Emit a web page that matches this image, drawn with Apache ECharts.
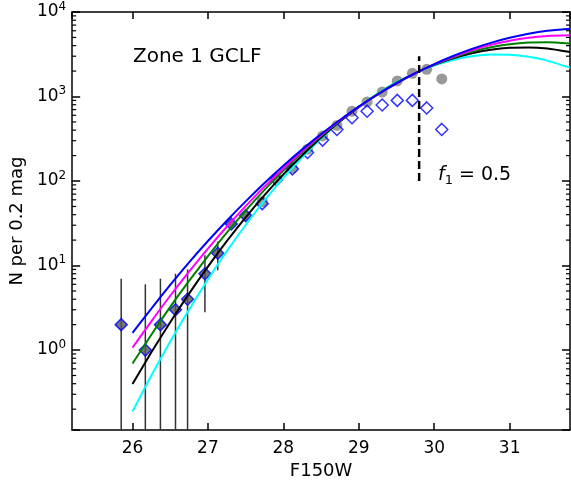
<!DOCTYPE html>
<html>
<head>
<meta charset="utf-8">
<script src="https://cdn.jsdelivr.net/npm/echarts@6/dist/echarts.min.js"></script>
<style>html,body{margin:0;padding:0;background:#fff}#c{width:571px;height:485px}</style>
</head>
<body>
<div id="c"></div>
<script>
// ---- data ----
const mags  = [25.85, 26.17, 26.37, 26.57, 26.73, 26.96, 27.13, 27.31, 27.50, 27.72, 27.91, 28.12, 28.32, 28.52, 28.71, 28.91, 29.11, 29.31, 29.51, 29.71, 29.90, 30.10];
const nObs  = [2, 1, 2, 3, 4, 8, 14, 31, 39, 54, 103, 139, 218, 305, 408, 560, 671, 795, 900, 900, 733, 408];
const nCorr = [2, 1, 2, 3, 4, 8, 14, 31, 39, 57, 108, 142, 238, 342, 455, 671, 862, 1130, 1531, 1884, 2100, 1615];
const errN  = [5, 5, 5, 5, 5, 5.2, 5.2];

const curveMags = [26.0, 26.25, 26.5, 26.75, 27.0, 27.25, 27.5, 27.75, 28.0, 28.25, 28.5, 28.75,
                   29.0, 29.25, 29.5, 29.75, 30.0, 30.25, 30.5, 30.75, 31.0, 31.25, 31.5, 31.8];
const curveBlue    = [1.60, 3.10, 5.89, 10.9, 19.5, 33.9, 57.4, 94.8, 152, 237, 359, 528,
                      759, 1057, 1432, 1888, 2421, 3020, 3664, 4315, 4955, 5521, 5984, 6353];
const curveMagenta = [1.07, 2.19, 4.39, 8.47, 15.9, 28.8, 50.5, 85.9, 141, 225, 348, 520,
                      753, 1057, 1435, 1884, 2399, 2958, 3532, 4083, 4571, 4966, 5212, 5297];
const curveGreen   = [0.693, 1.52, 3.24, 6.58, 12.9, 24.5, 44.7, 78.7, 133, 217, 342, 519,
                      757, 1067, 1449, 1892, 2382, 2897, 3388, 3819, 4150, 4345, 4385, 4227];
const curveBlack   = [0.397, 0.942, 2.13, 4.65, 9.70, 19.4, 37.2, 68.1, 120, 202, 327, 505,
                      750, 1064, 1449, 1892, 2366, 2831, 3258, 3581, 3776, 3811, 3690, 3357];
const curveCyan    = [0.188, 0.500, 1.26, 3.01, 6.85, 14.8, 30.2, 58.9, 109, 191, 319, 506,
                      760, 1086, 1476, 1901, 2328, 2710, 2992, 3141, 3126, 2958, 2661, 2188];

const f1Mag = 29.8;
const f1Range = [100, 3000];
const minorTicks = [];
[0.1, 1, 10, 100, 1000].forEach(d => { for (let k = 2; k <= 9; k++) minorTicks.push(+(d * k).toPrecision(3)); });

const xMin = 25.2, xMax = 31.8, yMin = 0.113, yMax = 10000;
const FONT = 'DejaVu Sans';

// ---- build ----
const chart = echarts.init(document.getElementById('c'), null, {renderer: 'canvas'});
const pairs = (xs, ys) => xs.map((x, i) => [x, ys[i]]);

const diamondData = mags.map((m, i) => ({
  value: [m, nObs[i]],
  itemStyle: { color: nObs[i] === nCorr[i] ? '#555555' : 'rgba(0,0,0,0)' }
}));
const circleData = mags.map((m, i) => nObs[i] === nCorr[i] ? null : [m, nCorr[i]]).filter(d => d);
const errData = errN.map((e, i) => [mags[i], nObs[i], e]);

const axisLineStyle = { color: '#000', width: 1.5 };
const curve = (data, color) => ({
  type: 'line', data: pairs(curveMags, data), showSymbol: false, smooth: 0.2,
  lineStyle: { color, width: 2 }, xAxisIndex: 0, yAxisIndex: 0, silent: true, z: 4
});

chart.setOption({
  animation: false,
  backgroundColor: '#fff',
  grid: { left: 72, right: 1, top: 12, bottom: 51, containLabel: false },
  xAxis: [{
    type: 'value', min: xMin, max: xMax, splitNumber: 6,
    name: 'F150W', nameLocation: 'middle', nameGap: 23,
    nameTextStyle: { fontFamily: FONT, fontSize: 18, color: '#000' },
    axisLine: { lineStyle: axisLineStyle },
    axisTick: { inside: true, length: 7, lineStyle: { color: '#000', width: 1.5 } },
    axisLabel: { margin: 10, fontFamily: FONT, fontSize: 17, color: '#000', showMinLabel: false, showMaxLabel: false,
      formatter: v => Math.abs(v - Math.round(v)) < 1e-6 ? String(Math.round(v)) : '' },
    splitLine: { show: false }
  }, {
    type: 'value', min: xMin, max: xMax, splitNumber: 6, position: 'top',
    axisLine: { lineStyle: axisLineStyle },
    axisTick: { inside: true, length: 7, lineStyle: { color: '#000', width: 1.5 } },
    axisLabel: { show: false }, splitLine: { show: false }
  }],
  yAxis: [{
    type: 'log', logBase: 10, min: yMin, max: yMax,
    name: 'N per 0.2 mag', nameLocation: 'middle', nameGap: 45,
    nameTextStyle: { fontFamily: FONT, fontSize: 18, color: '#000' },
    axisLine: { lineStyle: axisLineStyle },
    axisTick: { inside: true, length: 8, lineStyle: { color: '#000', width: 1.5 } },
    axisLabel: { margin: 6, fontFamily: FONT, fontSize: 17, color: '#000',
      formatter: v => {
        const k = Math.round(Math.log10(v));
        return Math.abs(v / Math.pow(10, k) - 1) < 1e-6 ? '{b|10}{s|' + k + '}' : '';
      },
      rich: {
        b: { fontFamily: FONT, fontSize: 17, color: '#000' },
        s: { fontFamily: FONT, fontSize: 12, color: '#000', padding: [0, 0, 11, 0] }
      }
    },
    splitLine: { show: false }
  }, {
    type: 'log', logBase: 10, min: yMin, max: yMax, position: 'right',
    axisLine: { lineStyle: axisLineStyle },
    axisTick: { inside: true, length: 8, lineStyle: { color: '#000', width: 1.5 } },
    axisLabel: { show: false }, splitLine: { show: false }
  }],
  series: [
    { // minor ticks on both y sides
      type: 'custom', silent: true, clip: false, z: 1,
      data: minorTicks.map(v => [xMin, v]),
      renderItem: (params, api) => {
        const p = api.coord([api.value(0), api.value(1)]);
        const cs = params.coordSys;
        const st = { stroke: '#000', lineWidth: 1.2 };
        return { type: 'group', children: [
          { type: 'line', shape: { x1: cs.x, y1: p[1], x2: cs.x + 4, y2: p[1] }, style: st },
          { type: 'line', shape: { x1: cs.x + cs.width - 4, y1: p[1], x2: cs.x + cs.width, y2: p[1] }, style: st }
        ]};
      }
    },
    { // error bars
      type: 'custom', silent: true, z: 2,
      data: errData,
      renderItem: (params, api) => {
        const m = api.value(0), n = api.value(1), e = api.value(2);
        const cs = params.coordSys;
        const top = api.coord([m, n + e]);
        const low = n - e;
        const yb = low > yMin ? api.coord([m, low])[1] : cs.y + cs.height;
        return { type: 'line', shape: { x1: top[0], y1: top[1], x2: top[0], y2: yb },
          style: { stroke: '#333', lineWidth: 1.5 } };
      }
    },
    { type: 'scatter', data: circleData, symbol: 'circle', symbolSize: 11,
      itemStyle: { color: '#808080' }, z: 3, silent: true },
    { type: 'scatter', data: diamondData, symbol: 'diamond', symbolSize: 12,
      itemStyle: { borderColor: '#0000ff', borderWidth: 1.5 }, z: 3, silent: true },
    curve(curveCyan, '#00ffff'),
    curve(curveBlack, '#000000'),
    curve(curveGreen, '#008000'),
    curve(curveMagenta, '#ff00ff'),
    curve(curveBlue, '#0000ff'),
    { type: 'line', data: [[f1Mag, f1Range[0]], [f1Mag, f1Range[1]]], showSymbol: false, silent: true, z: 5,
      lineStyle: { color: '#000', width: 2.5, type: [8, 4] } }
  ],
  graphic: [
    { type: 'text', left: 133, top: 47, style: { text: 'Zone 1 GCLF', fontFamily: FONT, fontSize: 20, fill: '#000' } },
    { type: 'text', left: 438, top: 166, style: {
      text: '{i|f}{sub|1}{n| = 0.5}', fontFamily: FONT,
      rich: {
        i: { fontFamily: FONT, fontStyle: 'italic', fontSize: 19, color: '#000' },
        sub: { fontFamily: FONT, fontSize: 13, color: '#000', padding: [10, 0, 0, 0] },
        n: { fontFamily: FONT, fontSize: 19, color: '#000' }
      } } }
  ]
});
</script>
</body>
</html>
